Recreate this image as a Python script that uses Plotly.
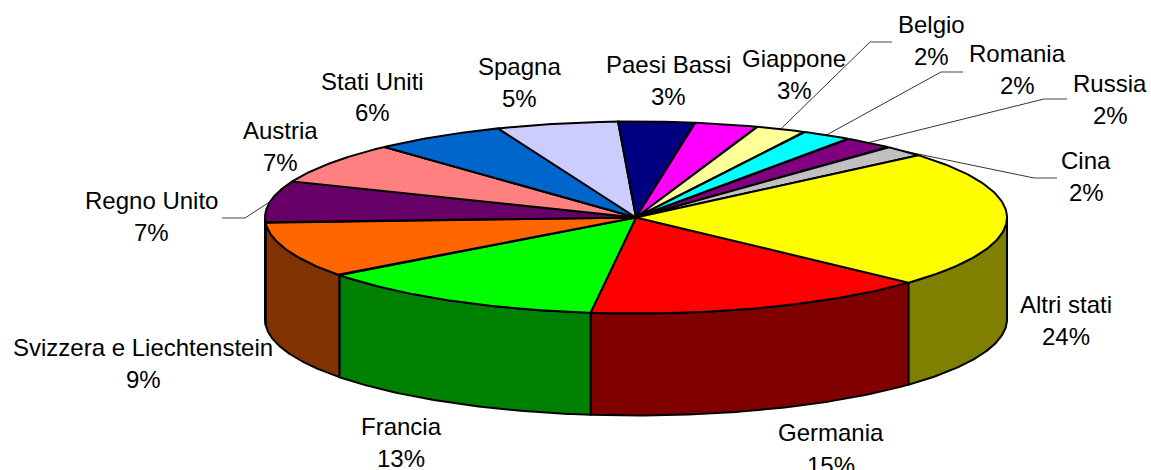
import numpy as np
import plotly.graph_objects as go

categories = ["Germania", "Francia", "Svizzera e Liechtenstein", "Regno Unito", "Austria",
              "Stati Uniti", "Spagna", "Paesi Bassi", "Giappone", "Belgio", "Romania",
              "Russia", "Cina", "Altri stati"]
shares = [15.1, 12.8, 9.4, 7.0, 7.0, 5.8, 5.3, 3.3, 2.75, 2.2, 2.2, 2.2, 1.9, 23.1]
percent_labels = ["15%", "13%", "9%", "7%", "7%", "6%", "5%", "3%", "3%", "2%", "2%", "2%", "2%", "24%"]
top_colors = ["#FF0000", "#00FF00", "#FF6600", "#660066", "#FF8080", "#0066CC", "#CCCCFF",
              "#000080", "#FF00FF", "#FFFF99", "#00FFFF", "#800080", "#C0C0C0", "#FFFF00"]
side_colors = ["#800000", "#008000", "#803300", "#330033", "#804040", "#003366", "#666680",
               "#000040", "#800080", "#80804D", "#008080", "#400040", "#606060", "#808000"]

# label layout: centre x, name line y, percent line y
label_x = [831, 401, 143, 151, 280, 372, 519, 668, 794, 931, 1017, 1110, 1086, 1066]
label_y1 = [432, 426, 347, 200, 130, 81, 66, 64, 58, 24, 53, 83, 160, 304]
label_y2 = [465, 458, 379, 232, 162, 112, 98, 96, 90, 56, 85, 115, 192, 336]

# leader lines: category -> (elbow, outer end)
leaders = {"Regno Unito": ((245, 218), (222, 218)),
           "Belgio": ((870, 42), (892, 42)),
           "Romania": ((941, 72), (963, 72)),
           "Russia": ((1044, 99), (1067, 99)),
           "Cina": ((1034, 178), (1057, 178))}

CX, CY, RX, RY, DEPTH, START = 636, 217.5, 371, 96, 102, 42.7


def rim(deg):
    t = np.radians(deg)
    return CX + RX * np.cos(t), CY + RY * np.sin(t)


fractions = np.array(shares) / sum(shares)
edges = START + np.concatenate([[0], np.cumsum(fractions)]) * 360

fig = go.Figure()

# side walls, only for the part of each slice on the front of the disc
for i, name in enumerate(categories):
    for offset in (0, 360):
        a = max(edges[i], offset)
        b = min(edges[i + 1], offset + 180)
        if b <= a:
            continue
        th = np.linspace(a, b, 80)
        x, y = rim(th)
        xs = np.concatenate([x, x[::-1], x[:1]])
        ys = np.concatenate([y, y[::-1] + DEPTH, y[:1]])
        fig.add_trace(go.Scatter(x=xs, y=ys, mode="lines", fill="toself", fillcolor=side_colors[i],
                                 line=dict(color="#000000", width=2), hoverinfo="skip", showlegend=False))

# top of the disc
for i, name in enumerate(categories):
    th = np.linspace(edges[i], edges[i + 1], 100)
    x, y = rim(th)
    xs = np.concatenate([[CX], x, [CX]])
    ys = np.concatenate([[CY], y, [CY]])
    fig.add_trace(go.Scatter(x=xs, y=ys, mode="lines", fill="toself", fillcolor=top_colors[i],
                             line=dict(color="#000000", width=2), name=name,
                             text=percent_labels[i], hoverinfo="name+text", showlegend=False))

# leader lines
for name, (elbow, end) in leaders.items():
    i = categories.index(name)
    mid = (edges[i] + edges[i + 1]) / 2
    px, py = rim(mid)
    fig.add_trace(go.Scatter(x=[px, elbow[0]], y=[py, elbow[1]], mode="lines",
                             line=dict(color="#000000", width=0.8), hoverinfo="skip", showlegend=False))
    fig.add_trace(go.Scatter(x=[elbow[0], end[0]], y=[elbow[1], end[1]], mode="lines",
                             line=dict(color="#666666", width=1.2), hoverinfo="skip", showlegend=False))

annotations = []
for i, name in enumerate(categories):
    for txt, yy in ((name, label_y1[i]), (percent_labels[i], label_y2[i])):
        annotations.append(dict(x=label_x[i], y=yy, text=txt, showarrow=False, xref="x", yref="y",
                                xanchor="center", yanchor="middle",
                                font=dict(family="Liberation Sans", size=24, color="#000000")))

fig.update_layout(width=1151, height=470, margin=dict(l=0, r=0, t=0, b=0),
                  paper_bgcolor="#FFFFFF", plot_bgcolor="#FFFFFF", annotations=annotations,
                  xaxis=dict(range=[0, 1151], visible=False, fixedrange=True),
                  yaxis=dict(range=[470, 0], visible=False, fixedrange=True))

fig.write_html("out.html", config=dict(displayModeBar=False),
               post_script="document.body.style.margin='0';document.body.style.overflow='hidden';")
